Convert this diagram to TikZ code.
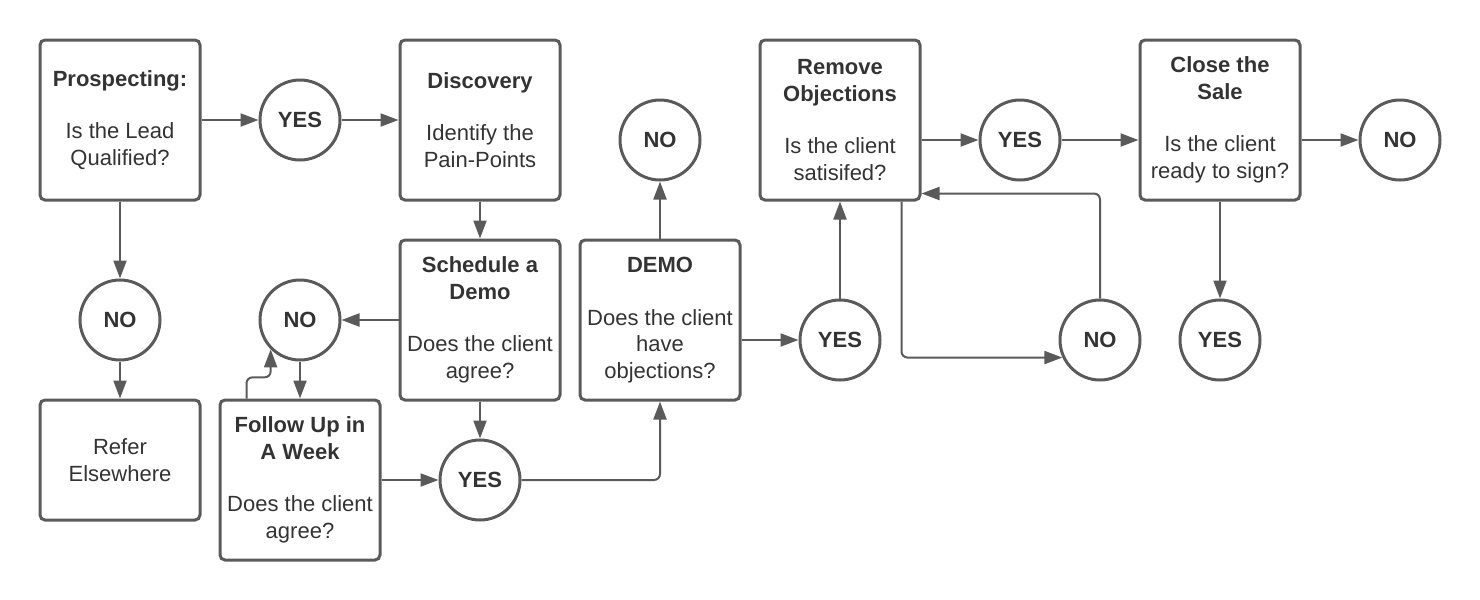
\documentclass[tikz,border=0pt]{standalone}
\usepackage{fontspec}
\setmainfont{Liberation Sans}
\usepackage{tikz}
\usetikzlibrary{positioning,arrows.meta}
\definecolor{edgegray}{HTML}{5A5A5A}
\definecolor{inkgray}{HTML}{333333}

\begin{document}
\begin{tikzpicture}[x=1pt,y=1pt,on grid,node distance=90pt,
	font=\fontsize{11}{13.25}\selectfont,text=inkgray,
	stage/.style={draw=edgegray,line width=1.5pt,rounded corners=2.5pt,minimum width=80pt,minimum height=80pt,inner sep=0pt,align=center},
	answer/.style={draw=edgegray,circle,line width=1.5pt,minimum size=40pt,inner sep=0pt,font=\fontsize{11}{13.25}\selectfont\bfseries},
	arr/.style={draw=edgegray,line width=1pt,-{Triangle[length=9pt,width=6.5pt]}}]
	\useasboundingbox (0,0) rectangle (740,-300);
	\node[stage] (prosp) at (60,-60) {\textbf{Prospecting:}\\[13pt]Is the Lead\\Qualified?};
	\node[answer] (yes1) [right=of prosp] {YES};
	\node[stage] (disc) [right=of yes1] {\textbf{Discovery}\\[13pt]Identify the\\Pain-Points};
	\node[stage] (sched) [below=100pt of disc] {\textbf{Schedule a}\\\textbf{Demo}\\[13pt]Does the client\\agree?};
	\node[answer] (yesb) [below=80pt of sched] {YES};
	\node[answer] (nosch) [left=of sched] {NO};
	\node[stage] (follow) [below=80pt of nosch] {\textbf{Follow Up in}\\\textbf{A Week}\\[13pt]Does the client\\agree?};
	\node[answer] (nopro) [below=100pt of prosp] {NO};
	\node[stage,minimum height=60pt] (refer) [below=70pt of nopro] {Refer\\Elsewhere};
	\node[stage] (demo) [right=of sched] {\textbf{DEMO}\\[13pt]Does the client\\have\\objections?};
	\node[answer] (nodemo) [above=of demo] {NO};
	\node[stage] (remove) [right=180pt of disc] {\textbf{Remove}\\\textbf{Objections}\\[13pt]Is the client\\satisifed?};
	\node[answer] (yesrem) [below=110pt of remove] {YES};
	\node[answer] (norem) [right=130pt of yesrem] {NO};
	\node[answer] (yesobj) [below right=10pt and 90pt of remove] {YES};
	\node[stage] (close) [right=190pt of remove] {\textbf{Close the}\\\textbf{Sale}\\[13pt]Is the client\\ready to sign?};
	\node[answer] (noclose) [below right=10pt and 90pt of close] {NO};
	\node[answer] (yesclose) [below=110pt of close] {YES};

	\draw[arr] (prosp) -- (yes1);
	\draw[arr] (yes1) -- (disc);
	\draw[arr] (prosp) -- (nopro);
	\draw[arr] (nopro) -- (refer);
	\draw[arr] (disc) -- (sched);
	\draw[arr] (sched) -- (nosch);
	\draw[arr] (sched) -- (yesb);
	\draw[arr] (nosch) -- (follow);
	\draw[arr,rounded corners=3pt] ([xshift=14pt]follow.north west) |- ([yshift=-14pt]nosch.225) -- (nosch.225);
	\draw[arr] (follow.east |- yesb) -- (yesb);
	\draw[arr,rounded corners=3pt] (yesb) -| (demo);
	\draw[arr] (demo) -- (nodemo);
	\draw[arr] (demo.east |- yesrem) -- (yesrem);
	\draw[arr] (yesrem) -- (remove);
	\draw[arr] (remove.east |- yesobj) -- (yesobj);
	\draw[arr] (yesobj) -- (close.west |- yesobj);
	\draw[arr,rounded corners=3pt] ([xshift=-10pt]remove.south east) |- (norem.205);
	\draw[arr,rounded corners=3pt] (norem) |- ([yshift=4pt]remove.south east);
	\draw[arr] (close.east |- noclose) -- (noclose);
	\draw[arr] (close) -- (yesclose);
\end{tikzpicture}
\end{document}
